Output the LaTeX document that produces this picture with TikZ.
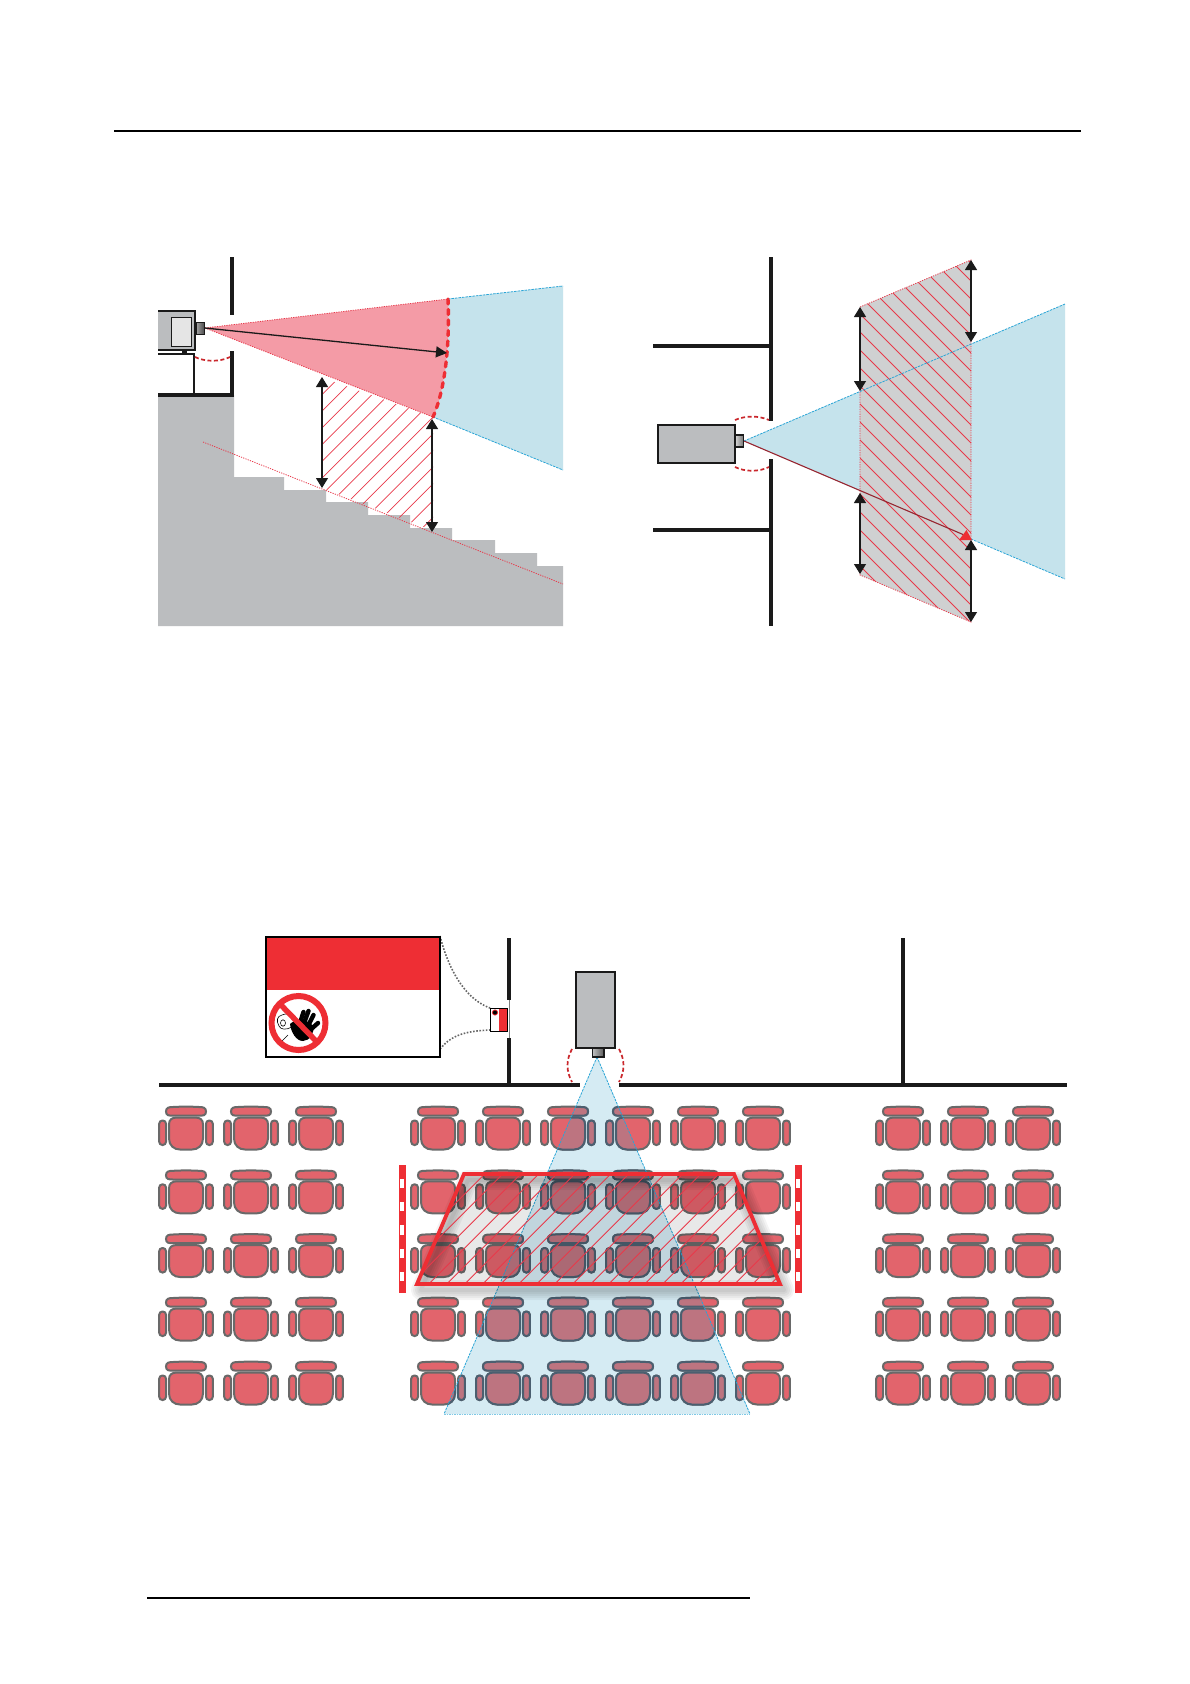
\documentclass[tikz,border=0pt]{standalone}
\usetikzlibrary{arrows.meta}
\definecolor{wallc}{HTML}{1A1A1A}
\definecolor{grayc}{HTML}{BBBDBF}
\definecolor{skyc}{HTML}{C5E3EC}
\definecolor{skyl}{HTML}{D5EBF3}
\definecolor{skye}{HTML}{2AA5D6}
\definecolor{pinkc}{HTML}{F49BA6}
\definecolor{redc}{HTML}{EE2E34}
\definecolor{hatchc}{HTML}{E8394A}
\definecolor{seatc}{HTML}{E2646C}
\definecolor{seatl}{HTML}{696969}
\definecolor{seatm}{HTML}{BD7480}
\definecolor{seatn}{HTML}{4B5F70}
\definecolor{bandc}{HTML}{CFD0D1}
\tikzset{
 wallline/.style={draw=wallc,line width=3.7pt},
 thinwall/.style={draw=wallc,line width=1.6pt},
 boxline/.style={draw=wallc,line width=1.6pt},
 bluedash/.style={draw=skye,line width=.8pt,dash pattern=on 2.5pt off 1pt},
 reddot/.style={draw=hatchc,line width=.8pt,dash pattern=on 1.2pt off 1.2pt},
 redarc/.style={draw=redc!85!black,line width=1.7pt,dash pattern=on 4pt off 2.5pt},
 redbig/.style={draw=redc,line width=3.4pt,line cap=round,dash pattern=on 5pt off 5.5pt},
 hatchline/.style={draw=hatchc,line width=.7pt},
 dimarrow/.style={draw=wallc,line width=1.2pt,{Triangle[length=10pt,width=12pt]}-{Triangle[length=10pt,width=12pt]}},
 dotcurve/.style={draw=black!60,line width=1.6pt,dash pattern=on 1.6pt off 1.6pt},
}
\newcommand{\chairat}[4]{%
 \begin{scope}[shift={(#1,#2)},line width=2pt,draw=#4,fill=#3]
  \filldraw (-20,-22) .. controls (-20,-26) and (-17,-26.5) .. (-13,-26.5) .. controls (-5,-27) and (5,-27) .. (13,-26.5) .. controls (17,-26.5) and (20,-26) .. (20,-22) .. controls (20,-18) and (17,-17.8) .. (13,-17.8) -- (-13,-17.8) .. controls (-17,-17.8) and (-20,-18) .. (-20,-22) -- cycle;
  \filldraw[rounded corners=3.2pt] (-26.8,-13) rectangle (-20,11.5);
  \filldraw[rounded corners=3.2pt] (20,-13) rectangle (26.8,11.5);
  \filldraw (-17,-9) .. controls (-17,-14) and (-14,-16) .. (-9,-16) -- (9,-16) .. controls (14,-16) and (17,-14) .. (17,-9) -- (17,5) .. controls (17,12) and (12,16) .. (6,16) -- (-6,16) .. controls (-12,16) and (-17,12) .. (-17,5) -- cycle;
 \end{scope}}
\newcommand{\chairrow}[2]{%
 \foreach \cx in {186,251,316,438,503,568,633,698,763,903,968,1033}{%
  \foreach \cy in {1133.5,1197.3,1261,1324.5,1388.5}{\chairat{\cx}{\cy}{#1}{#2}}}}
\begin{document}
\begin{tikzpicture}[x=1pt,y=-1pt]
\useasboundingbox (0,0) rectangle (1190,1684);
\fill[white] (0,0) rectangle (1190,1684);
% page rules
\coordinate (hl) at (114,131); \coordinate (hr) at (1081,131);
\draw[draw=black,line width=1.8pt] (hl) -- (hr);
\coordinate (fl) at (147,1598); \coordinate (fr) at (750,1598);
\draw[draw=black,line width=1.5pt] (fl) -- (fr);

%%%%%%%% LEFT DIAGRAM
\fill[grayc] (158,395) -- (234,395) -- (234,477) -- (284,477) -- (284,490) -- (326,490) -- (326,502) -- (368,502) -- (368,515) -- (410,515) -- (410,528) -- (452,528) -- (452,540) -- (495,540) -- (495,553) -- (537,553) -- (537,566) -- (563,566) -- (563,626) -- (158,626) -- cycle;
\coordinate (LA) at (205,328);
\coordinate (LT) at (448,299);
\coordinate (LB) at (433,417);
\coordinate (LM) at (447,353);
\fill[skyc] (LT) -- (563,286) -- (563,470) -- (LB) .. controls (445,390) and (450,345) .. (LT) -- cycle;
\draw[bluedash] (LT) -- (563,286);
\draw[bluedash] (LB) -- (563,470);
\fill[pinkc] (LA) -- (LT) .. controls (450,345) and (445,390) .. (LB) -- cycle;
\draw[reddot] (LA) -- (LT);
\draw[reddot] (LA) -- (LB);
% hatch
\begin{scope}
 \clip (322,377.5) -- (LB) -- (433,530.5) -- (322,488) -- cycle;
 \foreach \c in {-5,...,20}{\draw[hatchline] (300,{500+16.7*\c}) -- (500,{300+16.7*\c});}
\end{scope}
\draw[reddot] (203,442) -- (563,584);
% walls
\draw[wallline] (232,257) -- (232,315);
\draw[wallline] (232,351) -- (232,397);
\draw[wallline] (158,395) -- (234,395);
\draw[thinwall] (158,354) -- (194,354) -- (194,395);
% projector
\fill[wallc] (182,350) rectangle (187,353);
\filldraw[fill=grayc,boxline] (158,311) -- (195,311) -- (195,350) -- (158,350);
\filldraw[fill=black!10,draw=wallc,line width=.9pt] (171,317) rectangle (191,346);
\shade[left color=black!35,right color=black!70,draw=wallc,line width=1pt] (196,322) rectangle (204,334);
\draw[redarc] (195,357) .. controls (205,362) and (220,362) .. (230,357);
\draw[redbig] (LT) .. controls (450,345) and (445,390) .. (LB);
\draw[draw=wallc,line width=1.3pt,-{Triangle[length=11pt,width=11pt]}] (LA) -- (LM);
\coordinate (d1a) at (322,377); \coordinate (d1b) at (322,488);
\coordinate (d2a) at (432,419); \coordinate (d2b) at (432,532);
\draw[dimarrow] (d1a) -- (d1b);
\draw[dimarrow] (d2a) -- (d2b);

%%%%%%%% RIGHT DIAGRAM
\coordinate (RA) at (744,441);
\coordinate (RT) at (1065,304);
\coordinate (RB) at (1065,579);
\coordinate (RC) at (971,539);
\fill[skyc] (RA) -- (RT) -- (RB) -- cycle;
\fill[bandc] (860,307) -- (971,260) -- (971,622) -- (860,575) -- cycle;
\begin{scope}
 \clip (860,307) -- (971,260) -- (971,622) -- (860,575) -- cycle;
 \foreach \c in {-7,...,20}{\draw[draw=hatchc,line width=.9pt] (800,{200+18*\c}) -- (1000,{400+18*\c});}
\end{scope}
\draw[reddot] (860,307) -- (971,260) -- (971,622) -- (860,575) -- cycle;
\draw[bluedash] (RA) -- (RT);
\draw[bluedash] (RC) -- (RB);
\draw[wallline] (771,257) -- (771,421);
\draw[wallline] (771,459) -- (771,626);
\draw[wallline] (653,346) -- (771,346);
\draw[wallline] (653,530) -- (771,530);
\filldraw[fill=grayc,boxline] (658,425) rectangle (735,463);
\shade[left color=black!15,right color=black!55,draw=wallc,line width=1.2pt] (735,435) rectangle (743.5,447);
\draw[redarc] (735,420) .. controls (745,415.5) and (759,415.5) .. (769,420);
\draw[redarc] (735,467) .. controls (745,472) and (759,472) .. (769,467);
\draw[draw=black!35!hatchc,line width=1.1pt] (RA) -- (963,534.5);
\fill[redc] (972,540) -- (959,540) -- (966.5,530) -- cycle;
\coordinate (r1a) at (860,307); \coordinate (r1b) at (860,391);
\coordinate (r2a) at (860,493); \coordinate (r2b) at (860,574);
\coordinate (r3a) at (971,260); \coordinate (r3b) at (971,342);
\coordinate (r4a) at (971,540); \coordinate (r4b) at (971,622);
\draw[dimarrow] (r1a) -- (r1b);
\draw[dimarrow] (r2a) -- (r2b);
\draw[dimarrow] (r3a) -- (r3b);
\draw[dimarrow] (r4a) -- (r4b);

%%%%%%%% BOTTOM DIAGRAM
\coordinate (BA) at (597,1057);
\coordinate (BL) at (444,1414);
\coordinate (BR) at (750,1414);
\fill[skyl] (BA) -- (BR) -- (BL) -- cycle;
\chairrow{seatc}{seatl}
\begin{scope}
 \clip (BA) -- (BR) -- (BL) -- cycle;
 \chairrow{seatm}{seatn}
\end{scope}
\draw[bluedash] (BA) -- (BL);
\draw[bluedash] (BA) -- (BR);
\draw[draw=skye!60,line width=.6pt,dash pattern=on 1.5pt off 1pt] (BL) -- (BR);
% walls
\draw[wallline] (159,1085) -- (580,1085);
\draw[wallline] (619,1085) -- (1067,1085);
\draw[wallline] (509,938) -- (509,1000);
\draw[wallline] (509,1038) -- (509,1085);
\draw[wallline] (903,938) -- (903,1085);
\draw[draw=gray,line width=.5pt] (509,1000) -- (509,1038);
% projector
\filldraw[fill=grayc,boxline] (576,972) rectangle (615,1048);
\shade[left color=black!25,right color=black!65,draw=wallc,line width=1.2pt] (592.5,1048) rectangle (604,1057);
\draw[redarc] (572,1049) .. controls (566,1060) and (566,1071) .. (572,1082);
\draw[redarc] (619,1049) .. controls (625,1060) and (625,1071) .. (619,1082);
% sign
\coordinate (sgtr) at (440,936);
\coordinate (sgbr) at (440,1049);
\coordinate (smt) at (490,1008);
\coordinate (smb) at (490,1030);
\draw[dotcurve] (sgtr) .. controls (450,975) and (468,1000) .. (smt);
\draw[dotcurve] (sgbr) .. controls (452,1034) and (468,1031) .. (smb);
\fill[redc] (266,937) rectangle (440,990);
\draw[draw=black,line width=1.5pt] (266,937) rectangle (440,1057);
% head
\draw[draw=black,line width=.6pt] (281,1042) -- (288,1035);
\draw[draw=black,line width=.6pt] (292,1027) .. controls (286,1030) and (281,1030) .. (279,1026) .. controls (276,1021) and (277,1016) .. (282,1015) .. controls (286,1013) and (290,1014) .. (293,1017);
\draw[draw=black,line width=.6pt] (283,1023) circle[x radius=2.5,y radius=3.2];
% hand
\fill[black] (290,1024) .. controls (296,1018) and (308,1019) .. (313,1026) .. controls (315,1032) and (310,1041) .. (303,1041) .. controls (296,1041) and (291,1032) .. (290,1024) -- cycle;
\draw[black,line width=4.4pt,line cap=round] (299,1026) -- (303.5,1012);
\draw[black,line width=4.4pt,line cap=round] (303,1026) -- (308.5,1011);
\draw[black,line width=4.4pt,line cap=round] (307,1028) -- (313.5,1015);
\draw[black,line width=4.4pt,line cap=round] (309,1031) -- (318,1023);
\draw[redc,line width=6pt] (298.5,1023) circle[radius=27];
\draw[redc,line width=5.5pt] (280,1004) -- (317,1042);
% small sign
\fill[white] (490,1008) rectangle (507,1031);
\fill[redc] (499,1008) rectangle (507,1031);
\draw[draw=black,line width=1pt] (490,1008) rectangle (507,1031);
\draw[redc,line width=.8pt,fill=black] (495,1012.5) circle[radius=2.6];
% shadow of the trapezoid
\foreach \w in {20,16,12,8,4}{
 \draw[black,opacity=.045,line width=\w pt,line join=round] (468,1180) -- (738,1180) -- (784,1290) -- (421,1290) -- cycle;}
% trapezoid
\coordinate (t1) at (464,1174); \coordinate (t2) at (734,1174);
\coordinate (t3) at (780,1284); \coordinate (t4) at (417,1284);
\begin{scope}
 \clip (t1) -- (t2) -- (t3) -- (t4) -- cycle;
 \fill[black,opacity=.09] (410,1170) rectangle (790,1290);
 \foreach \c in {-4,...,25}{\draw[draw=hatchc,line width=.9pt] ({446.7+18*\c-30},{1284+30}) -- ({446.7+18*\c+170},{1284-170});}
\end{scope}
\draw[draw=redc,line width=3.8pt,line join=miter] (t1) -- (t2) -- (t3) -- (t4) -- cycle;
% side bars
\foreach \bx in {399,795}{
 \fill[redc] (\bx,1165) rectangle (\bx+6.5,1293);
 \foreach \by in {1178.5,1201.8,1225.2,1248.5,1271.8}{
  \fill[white] (\bx+1.3,\by) rectangle (\bx+5.2,\by+9.5);}
}
\end{tikzpicture}
\end{document}
